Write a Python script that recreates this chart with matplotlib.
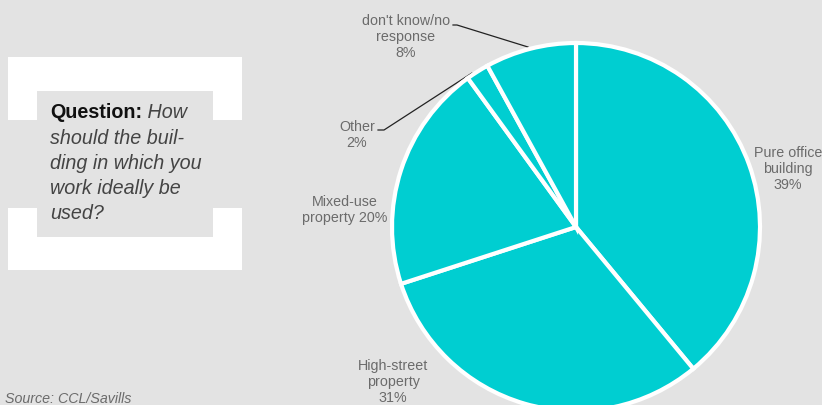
import matplotlib
matplotlib.use("Agg")
import matplotlib.pyplot as plt
from matplotlib.patches import Rectangle

plt.rcParams['font.family'] = ['Liberation Sans', 'DejaVu Sans']

categories = ["Pure office\nbuilding", "High-street\nproperty", "Mixed-use\nproperty", "Other", "don't know/no\nresponse"]
values = [39, 31, 20, 2, 8]

BG = "#e3e3e3"
TEAL = "#00ced1"
LBL = "#6b6b6b"

W, H = 822, 405
fig = plt.figure(figsize=(W / 100, H / 100), dpi=100, facecolor=BG)
ax = fig.add_axes([0, 0, 1, 1])
ax.set_xlim(0, W)
ax.set_ylim(H, 0)
ax.set_aspect('equal')
ax.axis('off')
ax.set_facecolor(BG)

# Question box (white brackets + inner gray panel)
ax.add_patch(Rectangle((8, 57), 234, 63, facecolor='white', edgecolor='none'))
ax.add_patch(Rectangle((8, 208), 234, 62, facecolor='white', edgecolor='none'))
ax.add_patch(Rectangle((37, 91), 176, 146, facecolor=BG, edgecolor='none'))

QFS = 14.2
fig.canvas.draw()
r = fig.canvas.get_renderer()
t = ax.text(50, 113, "Question:", fontsize=QFS, fontweight='bold', color='#111111',
            va='center', ha='left')
bb = t.get_window_extent(renderer=r)
x1 = ax.transData.inverted().transform((bb.x1, 0))[0]
ax.text(x1, 113, " How", fontsize=QFS, style='italic', color='#444444', va='center', ha='left')
q_lines = ["should the buil-", "ding in which you", "work ideally be", "used?"]
for i, ln in enumerate(q_lines):
    ax.text(50, 138 + i * 25.2, ln, fontsize=QFS, style='italic', color='#444444',
            va='center', ha='left')

# Pie: use a separate axes with normal y orientation
pax = fig.add_axes([0, 0, 1, 1])
pax.set_xlim(0, W)
pax.set_ylim(0, H)
pax.set_aspect('equal')
pax.axis('off')
pax.patch.set_alpha(0)
cx, cy, rad = 576, H - 227, 184
pax.pie(values, startangle=90, counterclock=False, colors=[TEAL] * len(values),
        center=(cx, cy), radius=rad, frame=True,
        wedgeprops=dict(edgecolor='white', linewidth=3))
pax.set_xlim(0, W)
pax.set_ylim(0, H)
pax.axis('off')

label_pos = [(788, 169), (393, 382), (345, 210), (357, 135), (406, 37)]
for cat, v, (lx, ly) in zip(categories, values, label_pos):
    if cat == "Mixed-use\nproperty":
        txt = "Mixed-use\nproperty " + f"{v}%"
    else:
        txt = cat + "\n" + f"{v}%"
    ax.text(lx, ly, txt, fontsize=10.3, color=LBL, ha='center', va='center', linespacing=1.15)

# leader lines
ax.plot([453, 457, 528], [25, 25, 47], color='#222222', lw=0.9)
ax.plot([378, 384, 472], [130, 130, 73], color='#222222', lw=0.9)

ax.text(5, 392, "Source: CCL/Savills", fontsize=10.3, style='italic', color=LBL,
        ha='left', va='top')

fig.savefig("out.png", dpi=100, facecolor=BG)
